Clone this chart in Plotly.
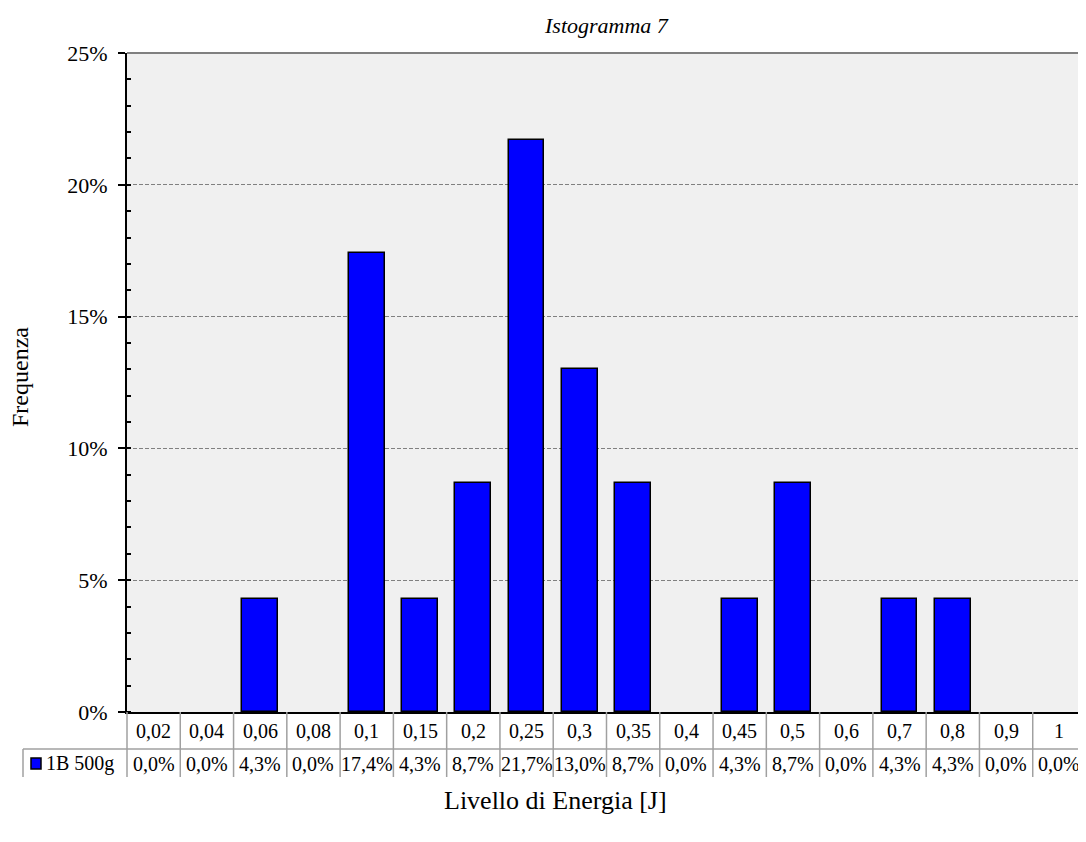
import plotly.graph_objects as go

categories = ["0,02", "0,04", "0,06", "0,08", "0,1", "0,15", "0,2", "0,25", "0,3",
              "0,35", "0,4", "0,45", "0,5", "0,6", "0,7", "0,8", "0,9", "1"]
freq_pct = [0.0, 0.0, 4.3, 0.0, 17.4, 4.3, 8.7, 21.7, 13.0,
            8.7, 0.0, 4.3, 8.7, 0.0, 4.3, 4.3, 0.0, 0.0]
series_name = "1B 500g"
y_ticks = [0, 5, 10, 15, 20, 25]
title_text = "Istogramma 7"
y_title = "Frequenza"
x_title = "Livello di Energia [J]"

# page body has an 8px margin: work in screen pixels, convert to figure pixels
OFF = 8
W, H = 1086 - OFF, 842 - OFF
S_PL, S_PR, S_PT, S_PB = 127, 1086, 53, 712   # plot area in screen pixels
PL, PR, PT, PB = S_PL - OFF, S_PR - OFF, S_PT - OFF, S_PB - OFF
FONT = "Liberation Serif, Times New Roman, serif"
n = len(categories)


def py(sp):
    """screen pixel y -> paper y"""
    return (PB - (sp - OFF)) / (PB - PT)


def px(sp):
    """screen pixel x -> paper x"""
    return ((sp - OFF) - PL) / (PR - PL)


fig = go.Figure()
fig.add_trace(go.Bar(
    x=list(range(n)),
    y=[v / 100 if v > 0 else None for v in freq_pct],
    width=0.67,
    marker=dict(color="#0000FF", line=dict(color="black", width=1.5)),
    name=series_name,
    showlegend=False,
))

fig.update_layout(
    width=W, height=H,
    margin=dict(l=PL, r=W - PR, t=PT, b=H - PB, pad=0),
    paper_bgcolor="white",
    plot_bgcolor="#f0f0f0",
    font=dict(family=FONT, size=20, color="black"),
    bargap=0,
)

fig.update_xaxes(
    range=[-0.5, n - 0.5], showticklabels=False, ticks="", showgrid=False,
    zeroline=False, showline=True, linecolor="black", linewidth=2,
)
fig.update_yaxes(
    range=[0, 0.25], tickvals=[t / 100 for t in y_ticks],
    ticktext=[f"{t}%" for t in y_ticks],
    ticks="outside", ticklen=7, tickwidth=1.5, tickcolor="black",
    showline=True, linecolor="black", linewidth=2,
    showgrid=True, gridcolor="#808080", griddash="4px,2px", gridwidth=1,
    zeroline=False, ticklabelstandoff=6,
    minor=dict(dtick=0.01, ticks="inside", ticklen=4, tickwidth=1.5,
               tickcolor="black", showgrid=False),
    tickfont=dict(size=22),
)

shapes = []
shapes.append(dict(type="line", xref="paper", yref="paper", x0=0, x1=1, y0=1, y1=1,
                   line=dict(color="#808080", width=2)))

row1_bot = 749
table_bot = 777
legend_left = 23
grid_col = "#a0a0a0"
for k in range(n + 1):
    shapes.append(dict(type="line", xref="paper", yref="paper",
                       x0=k / n, x1=k / n, y0=py(S_PB), y1=py(table_bot),
                       line=dict(color=grid_col, width=1.5)))
shapes.append(dict(type="line", xref="paper", yref="paper",
                   x0=px(legend_left), x1=1, y0=py(row1_bot), y1=py(row1_bot),
                   line=dict(color=grid_col, width=1.5)))
shapes.append(dict(type="line", xref="paper", yref="paper",
                   x0=px(legend_left), x1=px(legend_left), y0=py(row1_bot), y1=py(table_bot),
                   line=dict(color=grid_col, width=1.5)))
shapes.append(dict(type="rect", xref="paper", yref="paper",
                   x0=px(31), x1=px(41), y0=py(769), y1=py(758),
                   fillcolor="#0000FF", line=dict(color="black", width=1.5)))

annotations = []
# chart title
annotations.append(dict(x=px(606), xref="paper", y=py(OFF + 3), yref="paper",
                        text=f"<i>{title_text}</i>", showarrow=False,
                        font=dict(size=22), xanchor="center", yanchor="top"))
for i, c in enumerate(categories):
    annotations.append(dict(x=i, xref="x", y=py(731), yref="paper", text=c,
                            showarrow=False, font=dict(size=20), xanchor="center",
                            yanchor="middle"))
    annotations.append(dict(x=i, xref="x", y=py(764), yref="paper",
                            text=f"{freq_pct[i]:.1f}%".replace(".", ","),
                            showarrow=False, font=dict(size=20), xanchor="center",
                            yanchor="middle"))
annotations.append(dict(x=px(44), xref="paper", y=py(764), yref="paper", text=series_name,
                        showarrow=False, font=dict(size=20), xanchor="left", yanchor="middle"))
annotations.append(dict(x=px(20), xref="paper", y=py(377), yref="paper", text=y_title,
                        textangle=-90, showarrow=False, font=dict(size=24),
                        xanchor="center", yanchor="middle"))
annotations.append(dict(x=px(555), xref="paper", y=py(800), yref="paper", text=x_title,
                        showarrow=False, font=dict(size=26), xanchor="center", yanchor="middle"))

fig.update_layout(shapes=shapes, annotations=annotations)
fig.write_html("out.html")
